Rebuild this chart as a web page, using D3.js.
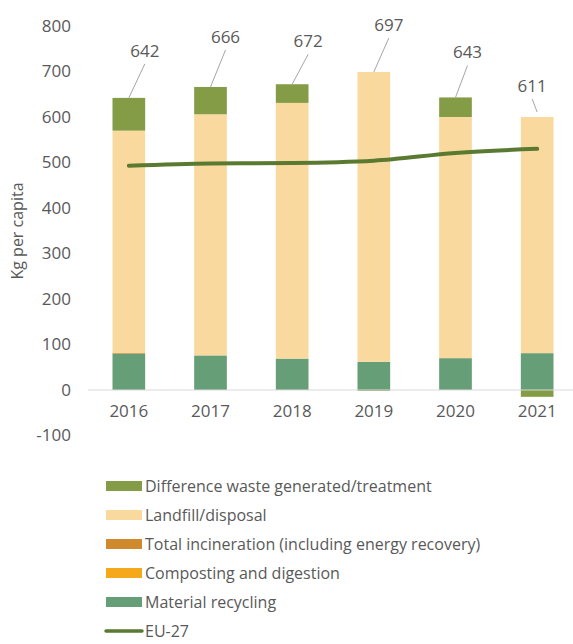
<!DOCTYPE html>
<html>
<head>
<meta charset="utf-8">
<script src="https://cdn.jsdelivr.net/npm/d3@7"></script>
<style>
  body { margin: 0; background: #fff; }
  svg { display: block; font-family: 'Open Sans', 'DejaVu Sans', sans-serif; }
  .tick text, .lbl, .legend text, .ytitle { fill: #595959; }
</style>
</head>
<body>
<div id="chart"></div>
<script>
// Data (kg per capita)
const years = ['2016', '2017', '2018', '2019', '2020', '2021'];
const recycling = [80, 76, 69, 62, 70, 81];
const composting = [0, 0, 0, 0, 0, 0];
const incineration = [2, 0, 0, 0, 0, 0];
const landfill = [488, 530, 562, 637, 530, 519];
const difference = [72, 60, 41, -2, 43, -15];
const totals = [642, 666, 672, 697, 643, 611];
const eu27 = [493, 498, 499, 504, 521, 530];
const yTicks = [-100, 0, 100, 200, 300, 400, 500, 600, 700, 800];

// Label placement (layout, not data)
const labelDx = [16, 15, 16, 15, 12, -5];
const labelDy = [-47, -50, -43, -47, -45, -31];
const leaderGap = [0, 0, 0, 0, 0, 5];

const width = 573;
const height = 644;

const series = [
  { key: 'recycling', name: 'Material recycling', color: '#669e78', values: recycling },
  { key: 'composting', name: 'Composting and digestion', color: '#f6a81c', values: composting },
  { key: 'incineration', name: 'Total incineration (including energy recovery)', color: '#cf8a2e', values: incineration },
  { key: 'landfill', name: 'Landfill/disposal', color: '#f9d99e', values: landfill },
  { key: 'difference', name: 'Difference waste generated/treatment', color: '#839c45', values: difference },
];
const lineColor = '#5a7a32';

const rows = years.map((y, i) => {
  const r = { year: y };
  series.forEach(s => { r[s.key] = s.values[i]; });
  return r;
});

const stacked = d3.stack()
  .keys(series.map(s => s.key))
  .offset(d3.stackOffsetDiverging)(rows);

const x = d3.scaleBand()
  .domain(years)
  .range([88, 578])
  .paddingInner(0.6)
  .paddingOuter(0.3);

const y = d3.scaleLinear()
  .domain([-100, 800])
  .range([435.5, 26]);

const svg = d3.select('#chart')
  .append('svg')
  .attr('width', width)
  .attr('height', height);

// Y axis (labels only)
const yAxis = svg.append('g')
  .attr('transform', 'translate(71,0)')
  .call(d3.axisLeft(y).tickValues(yTicks).tickSize(0).tickPadding(0)
    .tickFormat(d => String(d)));
yAxis.select('.domain').remove();
yAxis.selectAll('text').attr('font-size', 17).attr('font-family', "'Open Sans', sans-serif");

svg.append('text')
  .attr('class', 'ytitle')
  .attr('transform', 'translate(23,231) rotate(-90)')
  .attr('text-anchor', 'middle')
  .attr('font-size', 16)
  .text('Kg per capita');

// Bars
svg.append('g')
  .selectAll('g')
  .data(stacked)
  .join('g')
  .attr('fill', (d, i) => series[i].color)
  .selectAll('rect')
  .data(d => d)
  .join('rect')
  .attr('x', d => x(d.data.year))
  .attr('width', x.bandwidth())
  .attr('y', d => y(Math.max(d[0], d[1])))
  .attr('height', d => Math.abs(y(d[0]) - y(d[1])));

// Zero line
svg.append('line')
  .attr('x1', 88)
  .attr('x2', width)
  .attr('y1', y(0))
  .attr('y2', y(0))
  .attr('stroke', '#d9d9d9')
  .attr('stroke-width', 1);

// X axis labels
const xAxis = svg.append('g')
  .attr('transform', `translate(0,${y(0)})`)
  .call(d3.axisBottom(x).tickSize(0).tickPadding(15));
xAxis.select('.domain').remove();
xAxis.selectAll('text').attr('font-size', 17).attr('font-family', "'Open Sans', sans-serif");

// EU-27 line
const cx = d => x(d) + x.bandwidth() / 2;
svg.append('path')
  .datum(eu27)
  .attr('fill', 'none')
  .attr('stroke', lineColor)
  .attr('stroke-width', 4)
  .attr('stroke-linecap', 'round')
  .attr('d', d3.line()
    .x((d, i) => cx(years[i]))
    .y(d => y(d))
    .curve(d3.curveMonotoneX));

// Total labels with leader lines
const posTop = years.map((yr, i) => d3.sum(series, s => Math.max(0, s.values[i])));
const labels = svg.append('g');
years.forEach((yr, i) => {
  const bx = cx(yr);
  const top = y(posTop[i]);
  const lx = bx + labelDx[i];
  const ly = top + labelDy[i];
  labels.append('line')
    .attr('x1', bx)
    .attr('y1', top - leaderGap[i])
    .attr('x2', lx)
    .attr('y2', ly + 13)
    .attr('stroke', '#a6a6a6')
    .attr('stroke-width', 1);
  labels.append('text')
    .attr('class', 'lbl')
    .attr('x', lx)
    .attr('y', ly)
    .attr('dy', '0.35em')
    .attr('text-anchor', 'middle')
    .attr('font-size', 17)
    .text(totals[i]);
});

// Legend
const legendItems = series.slice().reverse().map(s => ({ name: s.name, color: s.color, type: 'bar' }));
legendItems.push({ name: 'EU-27', color: lineColor, type: 'line' });

const legend = svg.append('g')
  .attr('class', 'legend')
  .attr('transform', 'translate(106,486)');
const item = legend.selectAll('g')
  .data(legendItems)
  .join('g')
  .attr('transform', (d, i) => `translate(0,${i * 29})`);
item.filter(d => d.type === 'bar')
  .append('rect')
  .attr('x', 0)
  .attr('y', -5)
  .attr('width', 36)
  .attr('height', 10)
  .attr('fill', d => d.color);
item.filter(d => d.type === 'line')
  .append('line')
  .attr('x1', 0)
  .attr('x2', 36)
  .attr('stroke', d => d.color)
  .attr('stroke-width', 3.5)
  .attr('stroke-linecap', 'round');
item.append('text')
  .attr('x', 39)
  .attr('dy', '0.35em')
  .attr('font-size', 16)
  .text(d => d.name);
</script>
</body>
</html>
